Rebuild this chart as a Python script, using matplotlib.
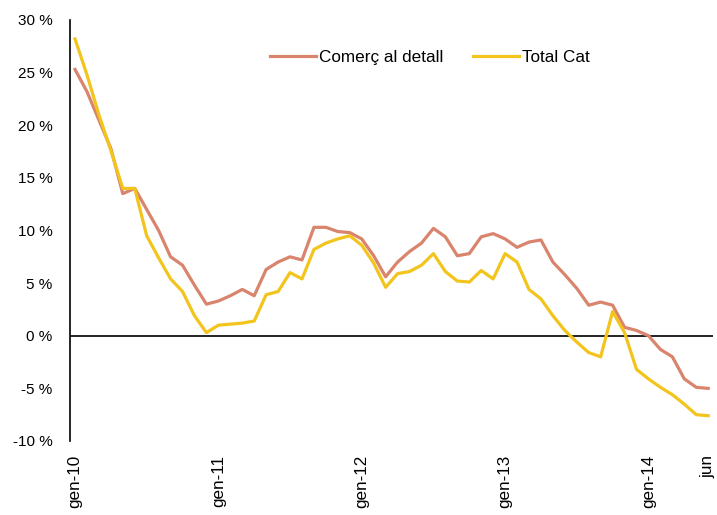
import numpy as np
import matplotlib
matplotlib.use("Agg")
import matplotlib.pyplot as plt
from matplotlib.ticker import FuncFormatter

plt.rcParams['font.family'] = ['Liberation Sans', 'DejaVu Sans']

# monthly series, gen-10 .. jun-14
comerc = [25.3, 23.2, 20.5, 17.8, 13.5, 14.0, 12.0, 10.0, 7.5, 6.7,
          4.8, 3.0, 3.3, 3.8, 4.4, 3.8, 6.3, 7.0, 7.5, 7.2,
          10.3, 10.3, 9.9, 9.8, 9.2, 7.6, 5.6, 7.0, 8.0, 8.8,
          10.2, 9.4, 7.6, 7.8, 9.4, 9.7, 9.2, 8.4, 8.9, 9.1,
          7.0, 5.8, 4.5, 2.9, 3.2, 2.9, 0.8, 0.5, 0.0, -1.3,
          -2.0, -4.1, -4.9, -5.0]
total_cat = [28.2, 24.8, 21.0, 17.6, 14.0, 14.0, 9.5, 7.4, 5.4, 4.2,
             1.9, 0.3, 1.0, 1.1, 1.2, 1.4, 3.9, 4.2, 6.0, 5.4,
             8.2, 8.8, 9.2, 9.5, 8.6, 6.9, 4.6, 5.9, 6.1, 6.7,
             7.8, 6.1, 5.2, 5.1, 6.2, 5.4, 7.8, 7.0, 4.4, 3.5,
             1.9, 0.5, -0.6, -1.6, -2.0, 2.3, 0.3, -3.2, -4.1, -4.9,
             -5.6, -6.5, -7.5, -7.6]
tick_pos = [0, 12, 24, 36, 48, 53]
tick_labels = ['gen-10', 'gen-11', 'gen-12', 'gen-13', 'gen-14', 'jun']

months = np.arange(len(comerc))

fig = plt.figure(figsize=(7.17, 5.15), dpi=100)
ax = fig.add_axes([0.0976, 0.1437, 0.8968, 0.8175])

ax.plot(months, comerc, color='#D9846C', lw=2.3, label='Comerç al detall')
ax.plot(months, total_cat, color='#F2C41C', lw=2.3, label='Total Cat')
ax.axhline(0, color='black', lw=1.2, zorder=1)

ax.set_xlim(-0.42, 53.4)
ax.set_ylim(-10, 30)
ax.set_yticks(range(-10, 31, 5))
ax.yaxis.set_major_formatter(FuncFormatter(lambda v, p: f'{v:.0f} %'))
ax.set_xticks(tick_pos)
ax.set_xticklabels(tick_labels, rotation=90, va='top', ha='center')
ax.tick_params(axis='y', length=0, labelsize=11, pad=12.5)
ax.tick_params(axis='x', length=0, labelsize=12.3, pad=10)

for s in ['top', 'right', 'bottom']:
    ax.spines[s].set_visible(False)
ax.spines['left'].set_linewidth(1.2)

ax.legend(loc='center', bbox_to_anchor=(0.56, 0.91), ncol=2, frameon=False,
          fontsize=12.3, handlelength=2.7, handletextpad=0.2, columnspacing=1.7)

fig.savefig('out.png', dpi=100)
